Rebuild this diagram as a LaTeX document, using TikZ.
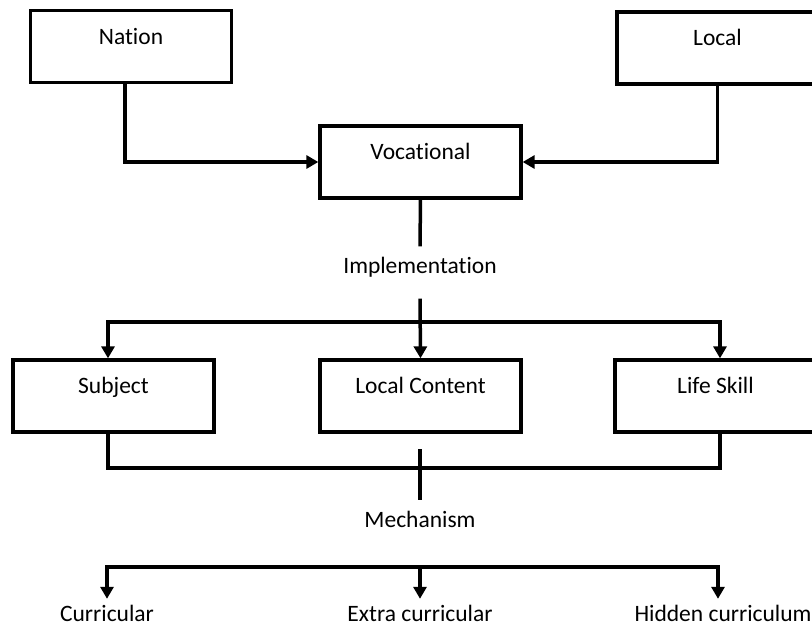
\documentclass[tikz,border=0pt]{standalone}
\usepackage{fontspec}
\setmainfont{Carlito}[Ligatures=NoCommon]
\usetikzlibrary{arrows.meta}

\begin{document}
\begin{tikzpicture}[x=1pt, y=-1pt, font=\fontsize{23.5pt}{28pt}\selectfont,
    box/.style={draw, line width=3.3pt, minimum width=201pt, inner ysep=0pt, text height=33.5pt, text depth=38.5pt},
    lbl/.style={inner ysep=10pt, text height=17pt, text depth=15pt},
    leaf/.style={inner ysep=4pt, text height=18pt, text depth=0pt},
    ln/.style={line width=3.5pt},
    arr/.style={line width=3.5pt, -{Triangle[length=12pt,width=13pt]}}]
     \useasboundingbox (0,0) rectangle (812,629);
     \clip (0,0) rectangle (812,629);

     % top level
     \node[box] (nation) at (131,46.5) {Nation};
     \node[box] (local) at (717.5,48) {Local};
     \node[box] (voc) at (420.5,162) {Vocational};
     \draw[arr] ([xshift=-6pt]nation.south) |- (voc.west);
     \draw[arr] (local.south) |- (voc.east);

     % implementation
     \node[lbl] (impl) at (420,272.5) {Implementation};
     \draw[ln] (voc.south) -- (impl.north);
     \node[box] (subj) at (113.5,396) {Subject};
     \node[box] (lc) at (420.5,396) {Local Content};
     \node[box] (life) at (715.5,396) {Life Skill};
     \coordinate (fork) at (420,322);
     \draw[arr] (impl.south) -- (lc.north);
     \draw[arr] (fork) -| ([xshift=-5.5pt]subj.north);
     \draw[arr] (fork) -| ([xshift=4.5pt]life.north);

     % mechanism
     \coordinate (join) at (420,468);
     \coordinate (mechtop) at (420,449);
     \node[lbl] (mech) at (420,526.5) {Mechanism};
     \draw[ln] ([xshift=-5.5pt]subj.south) |- (join) -| ([xshift=4.5pt]life.south);
     \draw[ln] (mechtop) -- (mech.north);

     % bottom level
     \node[leaf] (curr) at (107,612) {Curricular};
     \node[leaf] (extra) at (420,612) {Extra curricular};
     \node[leaf] (hidden) at (723,612) {Hidden curriculum};
     \coordinate (fork2) at (420,567);
     \draw[arr] (fork2) -- (extra);
     \draw[arr] (fork2) -| (curr);
     \draw[arr] (fork2) -| ([xshift=-5pt]hidden.north);

\end{tikzpicture}
\end{document}
